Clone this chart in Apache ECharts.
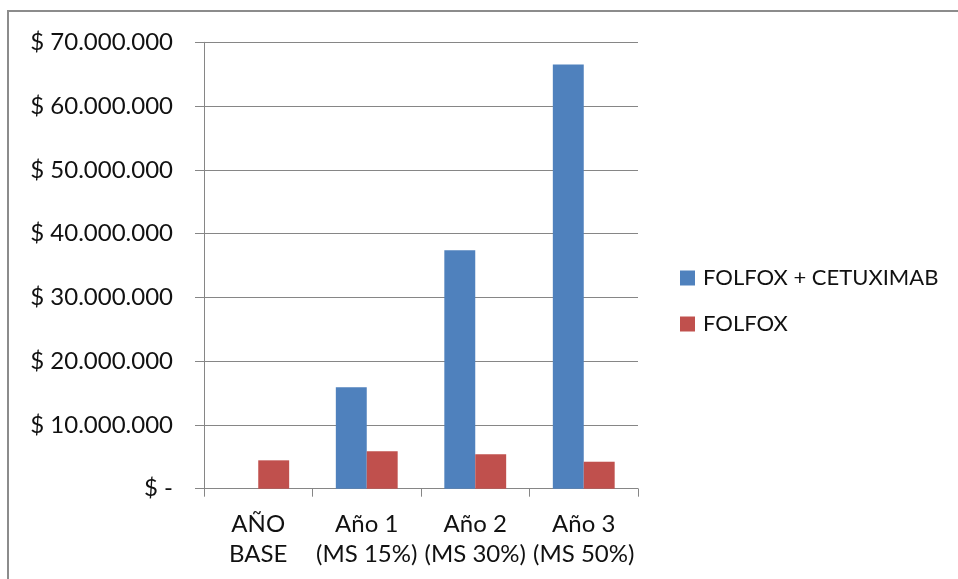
<!DOCTYPE html>
<html>
<head>
<meta charset="utf-8">
<script src="https://cdn.jsdelivr.net/npm/echarts@6/dist/echarts.min.js"></script>
<style>
html,body{margin:0;padding:0;background:#fff;}
#chart{width:958px;height:579px;}
</style>
</head>
<body>
<div id="chart"></div>
<script>
var categories = ['AÑO\nBASE', 'Año 1\n(MS 15%)', 'Año 2\n(MS 30%)', 'Año 3\n(MS 50%)'];
var seriesNames = ['FOLFOX + CETUXIMAB', 'FOLFOX'];
var folfoxCetuximab = [null, 15900000, 37400000, 66500000];
var folfox = [4450000, 5870000, 5400000, 4230000];
var yMin = 0, yMax = 70000000, yStep = 10000000;

function fmt(v) {
  if (v === 0) return '$ -';
  var s = String(Math.round(v));
  return '$ ' + s.replace(/\B(?=(\d{3})+(?!\d))/g, '.');
}

var FONT = 'Lato';
var axisGrey = '#868686';
var chart = echarts.init(document.getElementById('chart'), null, {renderer: 'canvas'});
chart.setOption({
  backgroundColor: '#ffffff',
  animation: false,
  textStyle: {fontFamily: FONT},
  graphic: [{
    type: 'rect',
    shape: {x: 8, y: 11, width: 2000, height: 2000},
    style: {fill: 'none', stroke: '#8c8c8c', lineWidth: 2},
    silent: true,
    z: -1
  }],
  grid: {left: 204, right: 320, top: 42.3, bottom: 90.3, containLabel: false},
  legend: {
    orient: 'vertical',
    left: 675,
    top: 262,
    icon: 'rect',
    itemWidth: 15,
    itemHeight: 15,
    itemGap: 24,
    textStyle: {fontFamily: FONT, fontSize: 22, color: '#111', padding: [0, 0, 0, 3]},
    data: seriesNames
  },
  xAxis: {
    type: 'category',
    data: categories,
    axisLine: {lineStyle: {color: axisGrey, width: 1}},
    axisTick: {show: true, length: 8, lineStyle: {color: axisGrey}},
    axisLabel: {fontFamily: FONT, fontSize: 24, color: '#111', lineHeight: 30, margin: 21, interval: 0}
  },
  yAxis: {
    type: 'value',
    min: yMin,
    max: yMax,
    interval: yStep,
    axisLine: {show: true, lineStyle: {color: axisGrey, width: 1}},
    axisTick: {show: true, length: 9, lineStyle: {color: axisGrey}},
    splitLine: {lineStyle: {color: axisGrey, width: 1}},
    axisLabel: {fontFamily: FONT, fontSize: 24, color: '#111', margin: 31, formatter: fmt}
  },
  series: [
    {
      name: seriesNames[0],
      type: 'bar',
      data: folfoxCetuximab,
      barGap: '0%',
      barCategoryGap: '43%',
      itemStyle: {color: '#4F81BD'}
    },
    {
      name: seriesNames[1],
      type: 'bar',
      data: folfox,
      barGap: '0%',
      barCategoryGap: '43%',
      itemStyle: {color: '#C0504D'}
    }
  ]
});
</script>
</body>
</html>
